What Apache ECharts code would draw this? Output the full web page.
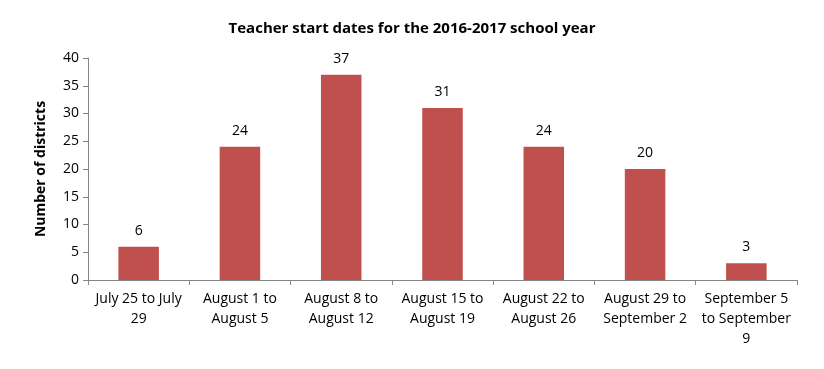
<!DOCTYPE html>
<html><head><meta charset="utf-8">
<script src="https://cdn.jsdelivr.net/npm/echarts@6/dist/echarts.min.js"></script>
<style>html,body{margin:0;padding:0;background:#fff}#c{width:824px;height:369px}</style>
</head><body><div id="c"></div>
<script>
const categories = ["July 25 to July\n29","August 1 to\nAugust 5","August 8 to\nAugust 12","August 15 to\nAugust 19","August 22 to\nAugust 26","August 29 to\nSeptember 2","September 5\nto September\n9"];
const districts = [6,24,37,31,24,20,3];
const yTicks = {min:0,max:40,interval:5};
const font = "'Open Sans', 'Noto Sans', sans-serif";
const chart = echarts.init(document.getElementById('c'));
chart.setOption({
  animation:false,
  title:{text:"Teacher start dates for the 2016-2017 school year",left:'center',top:16,
    textStyle:{fontFamily:font,fontSize:15,fontWeight:'bold',color:'#000'}},
  grid:{left:88,right:27,top:58,bottom:89},
  xAxis:{type:'category',data:categories,
    axisLine:{lineStyle:{color:'#868686',width:1}},
    axisTick:{show:true,alignWithLabel:false,length:5,lineStyle:{color:'#868686'}},
    axisLabel:{interval:0,fontFamily:font,fontSize:14,color:'#000',lineHeight:20,margin:9}},
  yAxis:{type:'value',min:yTicks.min,max:yTicks.max,interval:yTicks.interval,
    name:'Number of districts',nameLocation:'middle',nameGap:40,
    nameTextStyle:{fontFamily:font,fontSize:14,fontWeight:'bold',color:'#000'},
    splitLine:{show:false},
    axisLine:{show:true,lineStyle:{color:'#868686'}},
    axisTick:{show:true,length:5,lineStyle:{color:'#868686'}},
    axisLabel:{fontFamily:font,fontSize:14,color:'#000',margin:9}},
  series:[{type:'bar',data:districts,barWidth:'40%',
    itemStyle:{color:'#C0504D'},
    label:{show:true,position:'top',distance:9,fontFamily:font,fontSize:14,color:'#000'}}]
});
</script></body></html>
